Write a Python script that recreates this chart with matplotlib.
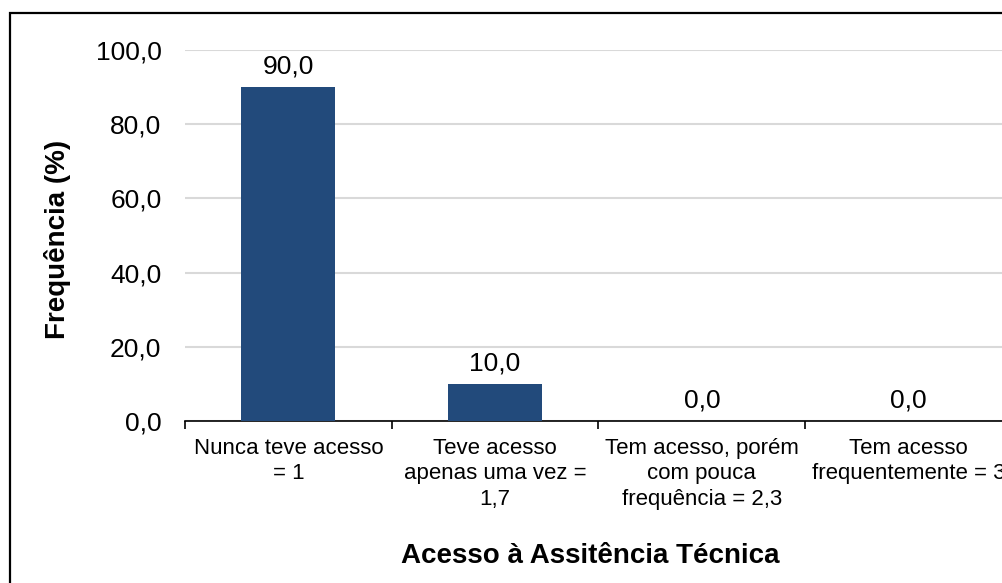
import matplotlib
matplotlib.use("Agg")
import matplotlib.pyplot as plt
from matplotlib.patches import Rectangle
import numpy as np

plt.rcParams['font.family'] = ['Liberation Sans', 'DejaVu Sans']

categorias = ["Nunca teve acesso\n= 1",
              "Teve acesso\napenas uma vez =\n1,7",
              "Tem acesso, porém\ncom pouca\nfrequência = 2,3",
              "Tem acesso\nfrequentemente = 3"]
frequencia = [90.0, 10.0, 0.0, 0.0]
yticks = [0, 20, 40, 60, 80, 100]

W, H = 1003, 583
fig = plt.figure(figsize=(W / 100, H / 100), dpi=100)

# eixo estende para fora da imagem (grafico cortado a direita)
left, right, top, bottom = 185, 1012, 50, 421
ax = fig.add_axes([left / W, 1 - bottom / H, (right - left) / W, (bottom - top) / H])

x = np.arange(len(categorias))
ax.bar(x, frequencia, width=0.455, color="#224a7b", zorder=3)

for xi, v in zip(x, frequencia):
    ax.annotate(f"{v:.1f}".replace(".", ","), (xi, v), xytext=(0, 6),
                textcoords="offset points", ha="center", va="bottom", fontsize=19)

ax.set_xlim(-0.5, len(categorias) - 0.5)
ax.set_ylim(0, 100)
ax.set_yticks(yticks)
ax.set_yticklabels([f"{t:.1f}".replace(".", ",") for t in yticks], fontsize=19)
ax.tick_params(axis="y", length=0, pad=17)
ax.yaxis.grid(True, color="#d9d9d9", linewidth=1.5, zorder=0)

ax.set_xticks(x)
ax.set_xticklabels(categorias, fontsize=16, linespacing=1.3)
ax.tick_params(axis="x", which="major", length=0, pad=12)
ax.set_xticks(np.arange(-0.5, len(categorias)), minor=True)
ax.tick_params(axis="x", which="minor", length=6, width=1.2, color="black")

for s in ["top", "right", "left"]:
    ax.spines[s].set_visible(False)
ax.spines["bottom"].set_color("black")
ax.spines["bottom"].set_linewidth(1.2)

ax.set_ylabel("Frequência (%)", fontsize=20, fontweight="bold")
ax.yaxis.set_label_coords((71 - left) / (right - left), 0.49)
fig.text(590 / W, 1 - 556 / H, "Acesso à Assitência Técnica", fontsize=20,
         fontweight="bold", ha="center", va="center")

# moldura do grafico
fig.patches.append(Rectangle((10 / W, -0.1), 1.2, 1 - 13 / H + 0.1,
                             transform=fig.transFigure, fill=False,
                             edgecolor="black", linewidth=1.6))

fig.savefig("out.png", dpi=100)
